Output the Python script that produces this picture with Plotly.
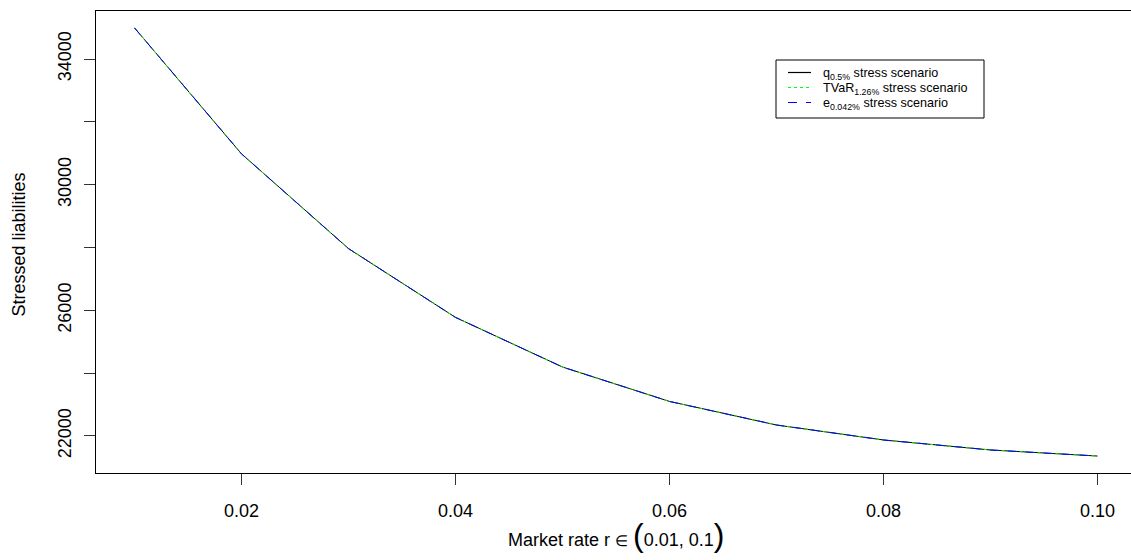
import plotly.graph_objects as go

# Data
market_rate = [0.01, 0.02, 0.03, 0.04, 0.05, 0.06, 0.07, 0.08, 0.09, 0.10]
q_stress = [34990, 30980, 27965, 25775, 24195, 23100, 22350, 21873, 21555, 21362]
tvar_stress = [34990, 30980, 27965, 25775, 24195, 23100, 22350, 21873, 21555, 21362]
e_stress = [34990, 30980, 27965, 25775, 24195, 23100, 22350, 21873, 21555, 21362]

series_names = [
    "q<sub>0.5%</sub> stress scenario",
    "TVaR<sub>1.26%</sub> stress scenario",
    "e<sub>0.042%</sub> stress scenario",
]
series_colors = ["black", "#00FF00", "#0000FF"]
series_dashes = ["solid", "dot", "dash"]
x_ticks = [0.02, 0.04, 0.06, 0.08, 0.10]
y_ticks = [22000, 24000, 26000, 28000, 30000, 32000, 34000]
y_ticklabels = ["22000", "", "26000", "", "30000", "", "34000"]

W, H = 1131, 560
ML, MR, MT, MB = 96, 0, 11, 87
FONT = "Liberation Sans, Arial, sans-serif"
pw = W - ML - MR
ph = H - MT - MB


def px_x(p):
    return (p - ML) / pw


def px_y(p):
    return (H - MB - p) / ph


fig = go.Figure()
for yv, name, col, dash in zip([q_stress, tvar_stress, e_stress], series_names,
                               series_colors, series_dashes):
    fig.add_trace(go.Scatter(x=market_rate, y=yv, mode="lines", name=name,
                             showlegend=False,
                             line=dict(color=col, width=1, dash=dash)))

# Legend (drawn as a box with sample lines and labels, R style)
shapes = [dict(type="rect", xref="paper", yref="paper",
               x0=px_x(776), x1=px_x(984), y0=px_y(60), y1=px_y(118),
               line=dict(color="black", width=1), fillcolor="white", layer="above")]
annotations = []
rows = [72.5, 87.5, 102.5]
for row, name, col, dash in zip(rows, series_names, series_colors, series_dashes):
    shapes.append(dict(type="line", xref="paper", yref="paper",
                       x0=px_x(788), x1=px_x(811), y0=px_y(row), y1=px_y(row),
                       line=dict(color=col, width=1.2, dash=dash), layer="above"))
    annotations.append(dict(text=name, xref="paper", yref="paper",
                            x=px_x(821), y=px_y(row + 1.5), xanchor="left", yanchor="middle",
                            showarrow=False,
                            font=dict(size=12.6, family=FONT, color="black")))

annotations += [
    dict(text='Market rate r <span style="font-size:15px">\u2208</span> '
              '<span style="font-size:32px">(</span>0.01, 0.1<span style="font-size:32px">)</span>',
         xref="paper", yref="paper", x=px_x(616), y=px_y(535),
         xanchor="center", yanchor="middle", showarrow=False,
         font=dict(size=18, family=FONT, color="black")),
    dict(text="Stressed liabilities", xref="paper", yref="paper",
         x=px_x(18.5), y=px_y(245), xanchor="center", yanchor="middle",
         textangle=-90, showarrow=False,
         font=dict(size=18, family=FONT, color="black")),
]

fig.update_layout(
    width=W, height=H,
    margin=dict(l=ML, r=MR, t=MT, b=MB, pad=0),
    paper_bgcolor="white", plot_bgcolor="white",
    font=dict(family=FONT, size=18, color="black"),
    showlegend=False,
    xaxis=dict(
        range=[0.0064, 0.0064 + pw / 10700.0],
        tickvals=x_ticks, ticktext=[f"{v:.2f}" for v in x_ticks],
        showgrid=False, zeroline=False,
        showline=True, linecolor="black", linewidth=1, mirror=True,
        ticks="outside", ticklen=11, tickwidth=1, tickcolor="#333",
        ticklabelstandoff=10,
    ),
    yaxis=dict(
        range=[20822, 35528],
        tickvals=y_ticks, ticktext=y_ticklabels, tickangle=-90,
        showgrid=False, zeroline=False,
        showline=True, linecolor="black", linewidth=1, mirror=False,
        ticks="outside", ticklen=11, tickwidth=1, tickcolor="#333",
        ticklabelstandoff=6,
    ),
    shapes=shapes,
    annotations=annotations,
)

fig.write_html("out.html")
